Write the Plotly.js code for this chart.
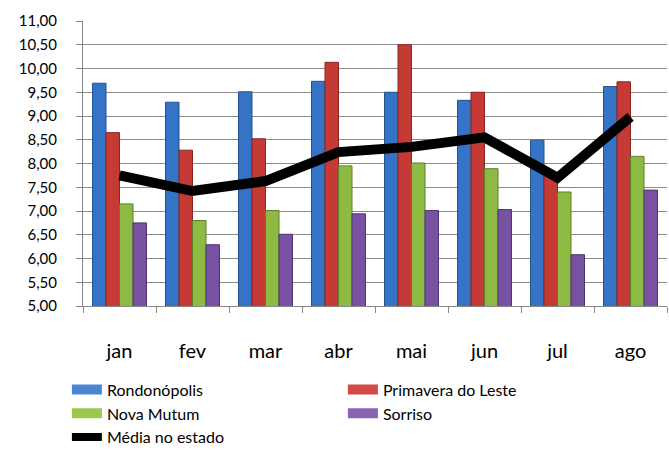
<!DOCTYPE html>
<html>
<head>
<meta charset="utf-8">
<script src="https://cdn.plot.ly/plotly-3.0.1.min.js"></script>
<style>html,body{margin:0;padding:0;background:#fff;}#chart{width:669px;height:450px;}</style>
</head>
<body>
<div id="chart"></div>
<script>
const months = ["jan","fev","mar","abr","mai","jun","jul","ago"];
const rondonopolis = [9.69, 9.29, 9.51, 9.73, 9.50, 9.33, 8.49, 9.62];
const primavera = [8.65, 8.28, 8.52, 10.13, 10.50, 9.50, 7.80, 9.72];
const novaMutum = [7.15, 6.80, 7.01, 7.95, 8.01, 7.89, 7.40, 8.15];
const sorriso = [6.75, 6.29, 6.51, 6.94, 7.01, 7.03, 6.08, 7.44];
const mediaEstado = [7.75, 7.42, 7.63, 8.24, 8.35, 8.55, 7.70, 8.98];

const barSeries = [
  {name: "Rondonópolis", y: rondonopolis, color: "#3473C6", line: "#24528F", leg: "#4C86D0"},
  {name: "Primavera do Leste", y: primavera, color: "#C63A35", line: "#8A2522", leg: "#D24A45"},
  {name: "Nova Mutum", y: novaMutum, color: "#8CBA42", line: "#5E7E2A", leg: "#9CC74E"},
  {name: "Sorriso", y: sorriso, color: "#7851A3", line: "#4F3470", leg: "#8763B0"}
];

const traces = barSeries.map(s => ({
  type: "bar", name: s.name, x: months, y: s.y, showlegend: false,
  marker: {color: s.color, line: {color: s.line, width: 1}}
}));
traces.push({
  type: "scatter", mode: "lines", name: "Média no estado", x: months, y: mediaEstado,
  line: {color: "#000000", width: 10}, showlegend: false
});
// legend entries (wide rectangular swatches like the original)
barSeries.forEach(s => traces.push({
  type: "scatter", mode: "lines", name: s.name, x: [null], y: [null],
  line: {color: s.leg, width: 10}, showlegend: true
}));
traces.push({
  type: "scatter", mode: "lines", name: "Média no estado", x: [null], y: [null],
  line: {color: "#000000", width: 8}, showlegend: true
});

const layout = {
  width: 669, height: 450,
  margin: {l: 83, r: 2, t: 21, b: 144},
  paper_bgcolor: "#ffffff", plot_bgcolor: "#ffffff",
  separators: ",.",
  font: {family: "Lato, 'Liberation Sans', sans-serif", color: "#000"},
  barmode: "group", bargap: 0.26, bargroupgap: 0,
  showlegend: true,
  legend: {orientation: "h", xref: "container", yref: "container", x: 0.1, xanchor: "left",
           y: 0.172, yanchor: "top", entrywidth: 231, font: {size: 16}, tracegroupgap: 0},
  xaxis: {type: "category", showgrid: false, showline: true, linecolor: "#888", linewidth: 1,
          ticks: "outside", tickson: "boundaries", ticklen: 6, tickcolor: "#888",
          tickfont: {size: 20}, ticklabelstandoff: 27, fixedrange: true},
  yaxis: {range: [5, 11], dtick: 0.5, tick0: 5, tickformat: ".2f", showgrid: true,
          gridcolor: "#8c8c8c", gridwidth: 1, showline: true, linecolor: "#888",
          ticks: "outside", ticklen: 6, tickcolor: "#888", tickfont: {size: 15},
          ticklabelstandoff: 16, zeroline: false}
};

Plotly.newPlot("chart", traces, layout, {displayModeBar: false, staticPlot: true});
</script>
</body>
</html>
